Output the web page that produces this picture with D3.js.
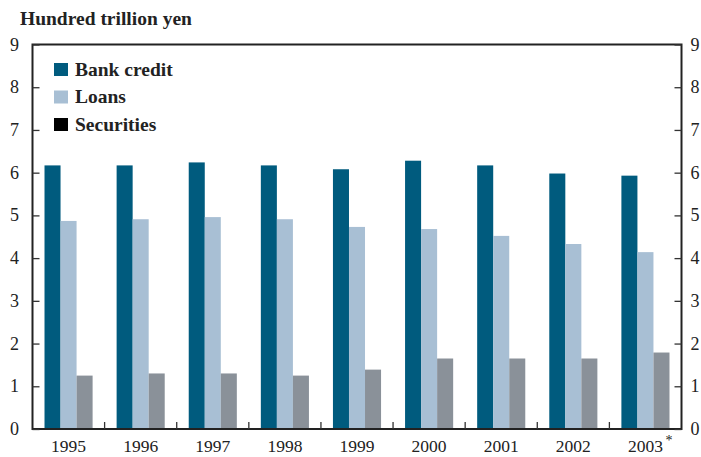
<!DOCTYPE html>
<html><head><meta charset="utf-8">
<script src="https://cdn.jsdelivr.net/npm/d3@7"></script>
<style>body{margin:0;background:#fff}svg{display:block}</style>
</head><body>
<svg id="c" width="701" height="457"></svg>
<script>
const years = ["1995","1996","1997","1998","1999","2000","2001","2002","2003"];
const bankCredit = [6.17, 6.17, 6.24, 6.17, 6.08, 6.28, 6.17, 5.98, 5.93];
const loans = [4.87, 4.91, 4.96, 4.91, 4.73, 4.68, 4.52, 4.33, 4.14];
const securities = [1.25, 1.30, 1.30, 1.25, 1.39, 1.65, 1.65, 1.65, 1.79];
const seriesNames = ["Bank credit","Loans","Securities"];
const seriesColors = ["#005b7e","#a8bfd4","#8a9199"];
const legendColors = ["#005b7e","#a8bfd4","#000000"];
const yTicks = [0,1,2,3,4,5,6,7,8,9];

const svg = d3.select("#c");
const L = 32.5, R = 681.5, T = 44.5, B = 429;
const font = "'Liberation Serif', 'Times New Roman', serif";
const x = d3.scaleBand().domain(years).range([L, R]).padding(0);
const y = d3.scaleLinear().domain([0, 9]).range([B, T]);
const inner = d3.scaleBand().domain(seriesNames).range([0, x.bandwidth()*0.667]);
const off = x.bandwidth()*(1-0.667)/2;
const data = [bankCredit, loans, securities];

seriesNames.forEach((s, si) => {
  svg.append("g").selectAll("rect").data(years).join("rect")
    .attr("x", (d) => x(d) + off + inner(s))
    .attr("width", inner.bandwidth())
    .attr("y", (d, i) => y(data[si][i]))
    .attr("height", (d, i) => B - y(data[si][i]))
    .attr("fill", seriesColors[si]);
});

// frame
svg.append("rect").attr("x", L).attr("y", T).attr("width", R - L).attr("height", B - T)
  .attr("fill", "none").attr("stroke", "#222").attr("stroke-width", 2);

// y ticks left and right (inward)
const yl = svg.append("g").attr("transform", `translate(${L},0)`)
  .call(d3.axisRight(y).tickValues(yTicks).tickSize(7).tickFormat(""));
yl.select(".domain").remove();
yl.selectAll("line").attr("stroke", "#333").attr("stroke-width", 1.3);
const yr = svg.append("g").attr("transform", `translate(${R},0)`)
  .call(d3.axisLeft(y).tickValues(yTicks).tickSize(7).tickFormat(""));
yr.select(".domain").remove();
yr.selectAll("line").attr("stroke", "#333").attr("stroke-width", 1.3);

// y labels
svg.append("g").selectAll("text").data(yTicks).join("text")
  .attr("x", 14.5).attr("y", d => y(d) + 6).attr("text-anchor", "middle")
  .attr("font-family", font).attr("font-size", 18).attr("fill", "#222").text(d => d);
svg.append("g").selectAll("text").data(yTicks).join("text")
  .attr("x", 695).attr("y", d => y(d) + 6).attr("text-anchor", "middle")
  .attr("font-family", font).attr("font-size", 18).attr("fill", "#222").text(d => d);

// x separator ticks (upward)
svg.append("g").selectAll("line").data(years.slice(1)).join("line")
  .attr("x1", d => x(d)).attr("x2", d => x(d)).attr("y1", B).attr("y2", B - 7)
  .attr("stroke", "#333").attr("stroke-width", 1.3);

// x labels
svg.append("g").selectAll("text").data(years).join("text")
  .attr("x", d => x(d) + x.bandwidth()/2).attr("y", 452).attr("text-anchor", "middle")
  .attr("font-family", font).attr("font-size", 17.5).attr("fill", "#222").text(d => d);
svg.append("text").attr("x", x("2003") + x.bandwidth()/2 + 20).attr("y", 445)
  .attr("font-family", font).attr("font-size", 14).attr("fill", "#222").text("*");

// title
svg.append("text").attr("x", 20).attr("y", 25).attr("font-family", font)
  .attr("font-size", 19.5).attr("font-weight", "bold").attr("fill", "#222").text("Hundred trillion yen");

// legend
const lg = svg.append("g");
seriesNames.forEach((s, i) => {
  lg.append("rect").attr("x", 54).attr("y", 63 + i*27.5).attr("width", 14).attr("height", 13)
    .attr("fill", legendColors[i]);
  lg.append("text").attr("x", 75).attr("y", 75.5 + i*27.8).attr("font-family", font)
    .attr("font-size", 19.5).attr("font-weight", "bold").attr("fill", "#222").text(s);
});
</script>
</body></html>
